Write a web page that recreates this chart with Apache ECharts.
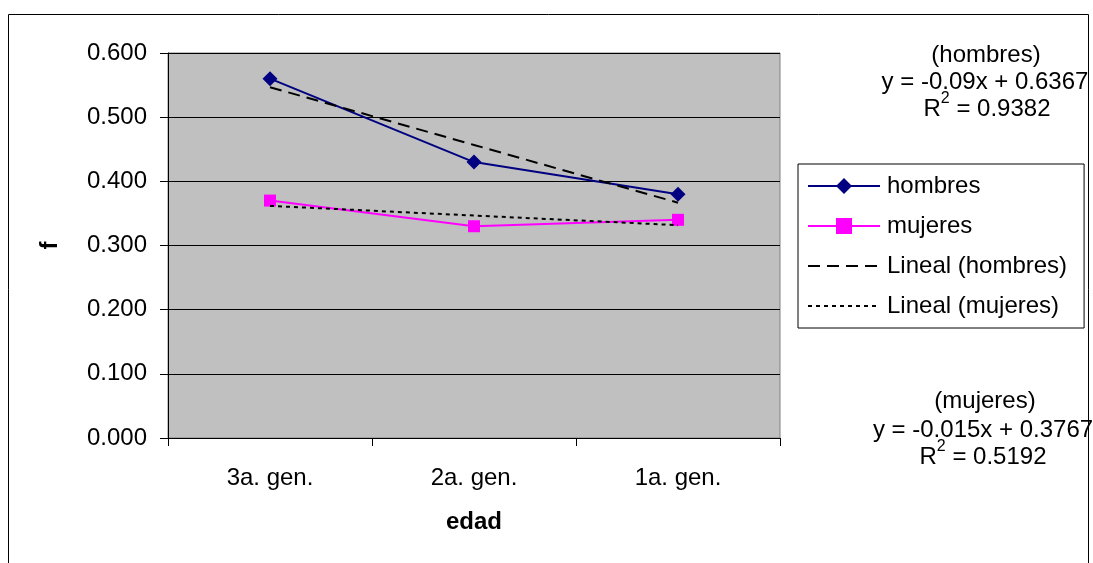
<!DOCTYPE html>
<html>
<head>
<meta charset="utf-8">
<script src="https://cdn.jsdelivr.net/npm/echarts@6/dist/echarts.min.js"></script>
<style>
html,body{margin:0;padding:0;background:#fff;}
#chart{width:1093px;height:563px;}
</style>
</head>
<body>
<div id="chart"></div>
<script>
var categories = ['3a. gen.', '2a. gen.', '1a. gen.'];
var hombres = [0.560, 0.430, 0.380];
var mujeres = [0.370, 0.330, 0.340];
var linealHombres = [0.5467, 0.4567, 0.3667];
var linealMujeres = [0.3617, 0.3467, 0.3317];
var yTicks = [0, 0.1, 0.2, 0.3, 0.4, 0.5, 0.6];

var FONT = '"Liberation Sans", Arial, sans-serif';
var chart = echarts.init(document.getElementById('chart'));
var rich = {
  r: { fontSize: 24, fontFamily: FONT, color: '#000', lineHeight: 30, verticalAlign: 'bottom' },
  s: { fontSize: 16, fontFamily: FONT, color: '#000', lineHeight: 16, verticalAlign: 'top' }
};
var txt = function (x, y, s) {
  return { type: 'text', x: x, y: y, z: 10, silent: true,
    style: { text: s, rich: rich, fill: '#000', align: 'center', verticalAlign: 'middle' } };
};
chart.setOption({
  animation: false,
  backgroundColor: '#fff',
  textStyle: { fontFamily: FONT },
  grid: { left: 168, top: 53, width: 612, height: 385, show: true, backgroundColor: '#C0C0C0', borderColor: '#808080', borderWidth: 1 },
  legend: {
    orient: 'vertical', left: 798, top: 164,
    borderColor: '#000', borderWidth: 1, padding: [9, 17, 9, 9],
    itemWidth: 72, itemHeight: 20, itemGap: 14,
    data: [
      { name: 'hombres' },
      { name: 'mujeres' },
      { name: 'Lineal (hombres)', itemStyle: { opacity: 0 } },
      { name: 'Lineal (mujeres)', itemStyle: { opacity: 0 } }
    ],
    textStyle: { fontSize: 24, fontFamily: FONT, color: '#000', lineHeight: 26, padding: [0, 0, 0, 2] }
  },
  xAxis: {
    type: 'category', data: categories, boundaryGap: true,
    name: 'edad', nameLocation: 'middle', nameGap: 72,
    nameTextStyle: { fontSize: 24, fontWeight: 'bold', color: '#000', fontFamily: FONT },
    axisLine: { lineStyle: { color: '#000', width: 1 } },
    axisTick: { show: true, inside: false, length: 8, interval: 0, lineStyle: { color: '#000' } },
    axisLabel: { fontSize: 24, color: '#000', margin: 28, fontFamily: FONT },
    splitLine: { show: false }
  },
  yAxis: {
    type: 'value', min: 0, max: 0.6, interval: 0.1,
    name: 'f', nameLocation: 'middle', nameGap: 106, nameRotate: 90,
    nameTextStyle: { fontSize: 24, fontWeight: 'bold', color: '#000', fontFamily: FONT },
    axisLine: { show: true, lineStyle: { color: '#000', width: 1 } },
    axisTick: { show: true, inside: false, length: 8, lineStyle: { color: '#000' } },
    axisLabel: { fontSize: 24, color: '#000', margin: 21, fontFamily: FONT,
      formatter: function (v) { return v.toFixed(3); } },
    splitLine: { show: true, lineStyle: { color: '#000', width: 1 } }
  },
  series: [
    { name: 'hombres', type: 'line', data: hombres, symbol: 'diamond', symbolSize: 15,
      lineStyle: { color: '#000080', width: 2 }, itemStyle: { color: '#000080' }, z: 3 },
    { name: 'mujeres', type: 'line', data: mujeres, symbol: 'rect', symbolSize: 12,
      lineStyle: { color: '#FF00FF', width: 2 }, itemStyle: { color: '#FF00FF' }, z: 3 },
    { name: 'Lineal (hombres)', type: 'line', data: linealHombres, symbol: 'none',
      lineStyle: { color: '#000', width: 2, type: [12, 7] }, itemStyle: { color: '#000' }, z: 4 },
    { name: 'Lineal (mujeres)', type: 'line', data: linealMujeres, symbol: 'none',
      lineStyle: { color: '#000', width: 2, type: [4, 4] }, itemStyle: { color: '#000' }, z: 4 }
  ],
  graphic: [
    { type: 'rect', shape: { x: 8.5, y: 14.5, width: 1080, height: 600 }, style: { fill: 'none', stroke: '#000', lineWidth: 1 }, silent: true, z: -1 },
    txt(986, 52, '{r|(hombres)}'),
    txt(985, 79, '{r|y = -0.09x + 0.6367}'),
    txt(987, 106, '{r|R}{s|2}{r| = 0.9382}'),
    txt(985, 398, '{r|(mujeres)}'),
    txt(983, 427, '{r|y = -0.015x + 0.3767}'),
    txt(983, 454, '{r|R}{s|2}{r| = 0.5192}')
  ]
});
</script>
</body>
</html>
